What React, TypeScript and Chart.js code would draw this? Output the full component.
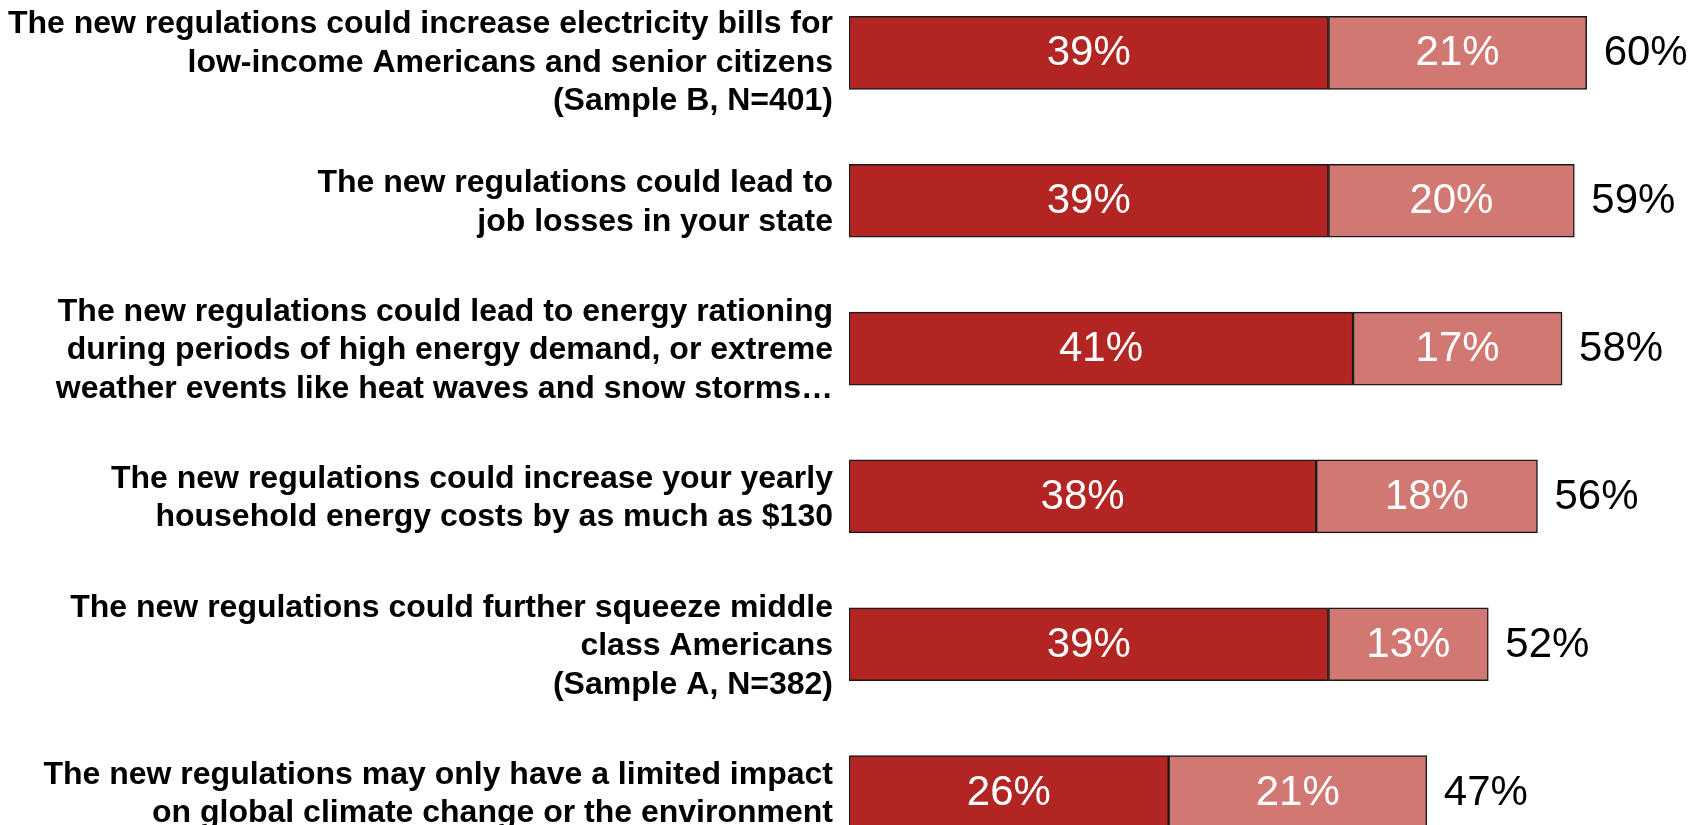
import React, { useEffect, useRef } from "react";
import { Chart, registerables } from "chart.js";

Chart.register(...registerables);

const categories: string[][] = [
  ["The new regulations could increase electricity bills for", "low-income Americans and senior citizens", "(Sample B, N=401)"],
  ["The new regulations could lead to", "job losses in your state"],
  ["The new regulations could lead to energy rationing", "during periods of high energy demand, or extreme", "weather events like heat waves and snow storms…"],
  ["The new regulations could increase your yearly", "household energy costs by as much as $130"],
  ["The new regulations could further squeeze middle", "class Americans", "(Sample A, N=382)"],
  ["The new regulations may only have a limited impact", "on global climate change or the environment"],
];

const veryConvincing: number[] = [39, 39, 41, 38, 39, 26];
const somewhatConvincing: number[] = [21, 20, 17, 18, 13, 21];
const totals: number[] = [60, 59, 58, 56, 52, 47];

const FONT = "'Liberation Sans', Arial, Helvetica, sans-serif";
const VISIBLE_TOP = 21; // canvas is shifted up by 21px inside the clipped page
const LABEL_LINE_HEIGHT = 38.5;

const valueLabels = {
  id: "valueLabels",
  afterDatasetsDraw(chart: any) {
    const ctx = chart.ctx;
    ctx.save();
    ctx.font = `42px ${FONT}`;
    ctx.textAlign = "center";
    ctx.textBaseline = "middle";
    ctx.fillStyle = "#ffffff";
    chart.data.datasets.forEach((ds: any, di: number) => {
      const meta = chart.getDatasetMeta(di);
      meta.data.forEach((el: any, i: number) => {
        const p = el.getCenterPoint();
        ctx.fillText(`${ds.data[i]}%`, p.x, p.y + 1);
      });
    });
    const last = chart.getDatasetMeta(chart.data.datasets.length - 1);
    ctx.textAlign = "left";
    ctx.fillStyle = "#000000";
    last.data.forEach((el: any, i: number) => {
      ctx.fillText(`${totals[i]}%`, el.x + 17, el.y + 1);
    });
    ctx.restore();
  },
};

const categoryLabels = {
  id: "categoryLabels",
  afterDraw(chart: any) {
    const ctx = chart.ctx;
    const yScale = chart.scales.y;
    const x = chart.chartArea.left - 16;
    ctx.save();
    ctx.font = `bold 32px ${FONT}`;
    ctx.textAlign = "right";
    ctx.textBaseline = "middle";
    ctx.fillStyle = "#000000";
    (chart.data.labels as string[][]).forEach((lines, i) => {
      const cy = yScale.getPixelForValue(i) + 2;
      let top = cy - (lines.length * LABEL_LINE_HEIGHT) / 2;
      if (top < VISIBLE_TOP + 5) top = VISIBLE_TOP + 5;
      lines.forEach((line, k) => {
        ctx.fillText(line, x, top + LABEL_LINE_HEIGHT / 2 + k * LABEL_LINE_HEIGHT);
      });
    });
    ctx.restore();
  },
};

export default function App() {
  const ref = useRef<HTMLCanvasElement | null>(null);
  useEffect(() => {
    document.body.style.margin = "0";
    if (!ref.current) return;
    const chart = new Chart(ref.current, {
      type: "bar",
      data: {
        labels: categories,
        datasets: [
          {
            label: "Very convincing",
            data: veryConvincing,
            backgroundColor: "#B22522",
            borderColor: "#1a1a1a",
            borderWidth: 1.5,
            borderSkipped: false,
            barThickness: 73,
          },
          {
            label: "Somewhat convincing",
            data: somewhatConvincing,
            backgroundColor: "#D27873",
            borderColor: "#1a1a1a",
            borderWidth: 1.5,
            borderSkipped: false,
            barThickness: 73,
          },
        ],
      },
      options: {
        indexAxis: "y",
        animation: false,
        responsive: false,
        layout: { padding: { left: 0, right: 4, top: 0, bottom: 0 } },
        plugins: {
          legend: { display: false },
          tooltip: { enabled: false },
        },
        scales: {
          x: {
            stacked: true,
            min: 0,
            max: 68,
            display: false,
          },
          y: {
            stacked: true,
            grid: { display: false, drawTicks: false },
            border: { display: false },
            ticks: { display: false },
            afterFit(scale: any) {
              scale.width = 849;
              scale.paddingTop = 0;
              scale.paddingBottom = 0;
            },
          },
        },
      },
      plugins: [valueLabels, categoryLabels],
    });
    return () => chart.destroy();
  }, []);

  return (
    <div style={{ position: "relative", width: 1689, height: 825, overflow: "hidden", background: "#fff" }}>
      <div style={{ position: "absolute", left: 0, top: -VISIBLE_TOP, width: 1689, height: 887 }}>
        <canvas ref={ref} width={1689} height={887} style={{ display: "block" }} />
      </div>
    </div>
  );
}
